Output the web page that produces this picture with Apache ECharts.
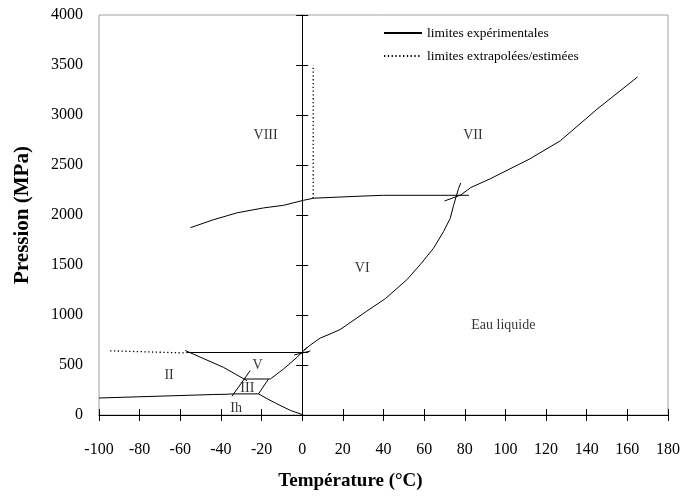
<!DOCTYPE html>
<html><head><meta charset="utf-8">
<script src="https://cdn.jsdelivr.net/npm/echarts@6/dist/echarts.min.js"></script>
<style>html,body{margin:0;padding:0;background:#fff}#c{width:683px;height:496px}</style>
</head><body><div id="c"></div>
<script>
// Tick labels
const xTicks = [-100,-80,-60,-40,-20,0,20,40,60,80,100,120,140,160,180];
const yTicks = [0,500,1000,1500,2000,2500,3000,3500,4000];

// Experimental boundaries [T °C, P MPa]
const ihMelt = [[0.6,0],[-5.9,47],[-12.5,112],[-17,160],[-21.5,211]];
const ihII = [[-100,170],[-43.5,205],[-38,207],[-34,211]];
const ihIII = [[-34,211],[-21.5,211]];
const iiIII = [[-34.6,186],[-25.6,444]];
const iiiLiq = [[-21.5,211],[-16.6,360]];
const iiiV = [[-28.5,360],[-15.7,360]];
const iiV = [[-57.6,645],[-38.7,476],[-27.2,344]];
const vVI = [[-57,625],[3,625]];
const vVIcross = [[-4,600],[4,640]];
const vLiq = [[-15.7,360],[-9.2,460],[-2.6,576],[0.6,642],[2.3,675]];
const viLiq = [[0.6,642],[4,700],[8.9,770],[12.2,797],[18.7,855],[31.8,1039],[41,1165],[51.5,1353],[58,1502],[64.6,1667],[69.5,1833],[72.8,1965],[74.5,2097],[76.9,2263],[78,2320]];
const viiLiq = [[70,2140],[78,2200],[83,2275],[92.5,2362],[112,2561],[127,2742],[145,3057],[165,3380]];
const viiiBound = [[-55,1873],[-43.8,1952],[-32,2022],[-19,2071],[-9.2,2097],[0.6,2147],[5.6,2168],[26.9,2187],[40,2197],[82,2197]];
// Extrapolated / estimated boundaries
const iiVIdot = [[-94.5,642],[-57,620]];
const viiViiiDot = [[5.4,2168],[5.4,3500]];

// Region labels
const regionNames = ['VIII','VII','VI','Eau liquide','V','II','III','Ih'];
const regionT = [-18,84,29.5,99,-22,-65.5,-27,-32.5];
const regionP = [2800,2800,1470,893,496,397,268,70];

const EXP = 'limites expérimentales';
const EST = 'limites extrapolées/estimées';
const FONT = 'Liberation Serif';

const solidSets = [ihMelt, ihII, ihIII, iiIII, iiiLiq, iiiV, iiV, vVI, vVIcross, vLiq, viLiq, viiLiq, viiiBound];
const dotSets = [iiVIdot, viiViiiDot];

const series = [];
solidSets.forEach(d => series.push({
  name: EXP, type: 'line', data: d, symbol: 'none', silent: true,
  lineStyle: {color: '#000', width: 1, type: 'solid'}, itemStyle: {color: '#000'}
}));
dotSets.forEach(d => series.push({
  name: EST, type: 'line', data: d, symbol: 'none', silent: true,
  lineStyle: {color: '#000', width: 1.3, type: [1.3, 2.5]}, itemStyle: {color: '#000'}
}));
series.push({
  name: 'labels', type: 'scatter', symbolSize: 0, silent: true,
  data: regionNames.map((n, i) => ({value: [regionT[i], regionP[i]], name: n})),
  label: {show: true, position: 'inside', formatter: p => p.name, color: '#000', fontFamily: FONT, fontSize: 14}
});

const xMin = xTicks[0], xMax = xTicks[xTicks.length-1], xInt = xTicks[1]-xTicks[0];
const yMin = yTicks[0], yMax = yTicks[yTicks.length-1], yInt = yTicks[1]-yTicks[0];

const baseX = {type: 'value', min: xMin, max: xMax, interval: xInt, splitLine: {show: false}, position: 'bottom'};
const baseY = {type: 'value', min: yMin, max: yMax, interval: yInt, splitLine: {show: false}, position: 'left'};

const option = {
  animation: false,
  backgroundColor: '#fff',
  textStyle: {fontFamily: FONT},
  grid: {left: 99, top: 15, right: 15, bottom: 78, show: true, borderColor: '#a0a0a0', borderWidth: 1, backgroundColor: 'transparent'},
  legend: {
    data: [EXP, EST], orient: 'vertical', left: 383, top: 26, padding: 0, itemWidth: 38, itemHeight: 14, itemGap: 9,
    itemStyle: {opacity: 0},
    textStyle: {fontFamily: FONT, fontSize: 13.5, color: '#000'}, selectedMode: false
  },
  xAxis: [
    Object.assign({}, baseX, {
      axisLine: {onZero: false, lineStyle: {color: '#000', width: 1}},
      axisTick: {show: true, inside: false, length: 6, lineStyle: {color: '#000'}},
      axisLabel: {show: true, margin: 27, fontFamily: FONT, fontSize: 16, color: '#000', formatter: v => String(v)},
      name: 'Température (°C)', nameLocation: 'middle', nameGap: 57,
      nameTextStyle: {fontFamily: FONT, fontSize: 19, fontWeight: 'bold', color: '#000', padding: [0, 66, 0, 0]}
    }),
    Object.assign({}, baseX, {
      axisLine: {show: false, onZero: false},
      axisTick: {show: true, inside: true, length: 6, lineStyle: {color: '#000'}},
      axisLabel: {show: false}
    })
  ],
  yAxis: [
    Object.assign({}, baseY, {
      axisLine: {show: false, onZero: false},
      axisTick: {show: false},
      axisLabel: {show: true, margin: 16, fontFamily: FONT, fontSize: 16, color: '#000', verticalAlign: 'middle', lineHeight: 16, padding: [7, 0, 0, 0], formatter: v => String(v)},
      name: 'Pression (MPa)', nameLocation: 'middle', nameGap: 66, nameRotate: 90,
      nameTextStyle: {fontFamily: FONT, fontSize: 21, fontWeight: 'bold', color: '#000'}
    }),
    Object.assign({}, baseY, {
      axisLine: {show: true, onZero: true, onZeroAxisIndex: 0, lineStyle: {color: '#000', width: 1}},
      axisTick: {show: true, inside: false, length: 6, lineStyle: {color: '#000'}},
      axisLabel: {show: false}
    }),
    Object.assign({}, baseY, {
      axisLine: {show: false, onZero: true, onZeroAxisIndex: 0},
      axisTick: {show: true, inside: true, length: 6, lineStyle: {color: '#000'}},
      axisLabel: {show: false}
    })
  ],
  series: series
};

const chart = echarts.init(document.getElementById('c'), null, {renderer: 'canvas'});
chart.setOption(option);
</script>
</body></html>
